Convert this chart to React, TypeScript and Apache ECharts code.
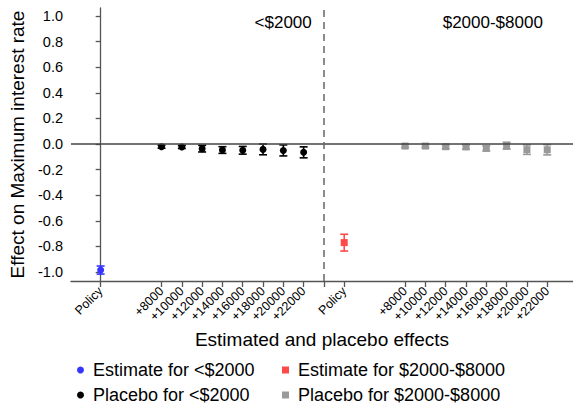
import React, { useEffect, useRef } from "react";
import * as echarts from "echarts";

// ---- data ----
const groups = ["<$2000", "$2000-$8000"];
const placeboLabels = ["+8000", "+10000", "+12000", "+14000", "+16000", "+18000", "+20000", "+22000"];
const policyLabel = "Policy";

const lowEstimate = -0.985;
const lowEstimateLo = -1.016;
const lowEstimateHi = -0.953;

const midEstimate = -0.77;
const midEstimateLo = -0.836;
const midEstimateHi = -0.705;

const lowPlacebo = [-0.021, -0.023, -0.036, -0.047, -0.049, -0.042, -0.05, -0.065];
const lowPlaceboLo = [-0.033, -0.035, -0.062, -0.073, -0.079, -0.084, -0.093, -0.108];
const lowPlaceboHi = [-0.009, -0.011, -0.01, -0.021, -0.019, 0.0, -0.007, -0.022];

const midPlacebo = [-0.016, -0.016, -0.021, -0.023, -0.034, -0.013, -0.044, -0.045];
const midPlaceboLo = [-0.028, -0.028, -0.036, -0.039, -0.054, -0.04, -0.081, -0.085];
const midPlaceboHi = [-0.004, -0.004, -0.006, -0.007, -0.014, 0.014, -0.007, -0.005];

const yTickLabels = [-1.0, -0.8, -0.6, -0.4, -0.2, 0.0, 0.2, 0.4, 0.6, 0.8, 1.0];

const seriesNames = [
  "Estimate for <$2000",
  "Placebo for <$2000",
  "Estimate for $2000-$8000",
  "Placebo for $2000-$8000",
];

// layout of category slots along the x axis
const GROUP_STEP = 12;
const PLACEBO_OFFSET = 3;
const groupBase = (g: number) => g * GROUP_STEP;
const placeboPos = (g: number, i: number) => groupBase(g) + PLACEBO_OFFSET + i;
const dividerPos = GROUP_STEP - 1;

const FONT = "'Liberation Sans', Arial, Helvetica, sans-serif";

export default function App() {
  const ref = useRef<HTMLDivElement>(null);
  useEffect(() => {
    document.body.style.margin = "0";
    if (!ref.current) return;
    const chart = echarts.init(ref.current, undefined, { renderer: "svg" });

    const labelMap: Record<string, string> = {};
    const tickVals: number[] = [];
    const labelVals: number[] = [];
    for (let g = 0; g < groups.length; g++) {
      labelMap[String(groupBase(g))] = policyLabel;
      tickVals.push(groupBase(g));
      labelVals.push(groupBase(g));
      placeboLabels.forEach((l, i) => {
        const p = placeboPos(g, i);
        labelMap[String(p)] = l;
        tickVals.push(p);
        labelVals.push(p);
      });
      if (g === 0) tickVals.push(dividerPos);
    }
    tickVals.sort((a, b) => a - b);

    const lowPlaceboPts = lowPlacebo.map((v, i) => [placeboPos(0, i), v]);
    const midPlaceboPts = midPlacebo.map((v, i) => [placeboPos(1, i), v]);
    const lowPlaceboErr = lowPlacebo.map((_, i) => [placeboPos(0, i), lowPlaceboLo[i], lowPlaceboHi[i]]);
    const midPlaceboErr = midPlacebo.map((_, i) => [placeboPos(1, i), midPlaceboLo[i], midPlaceboHi[i]]);

    const errSeries = (data: number[][], color: string, name: string) => ({
      type: "custom",
      name: name + " ci",
      data,
      z: 2,
      silent: true,
      encode: { x: 0, y: [1, 2] },
      renderItem: (params: any, api: any) => {
        const x = api.value(0);
        const top = api.coord([x, api.value(2)]);
        const bot = api.coord([x, api.value(1)]);
        const hw = 4;
        const style = { stroke: color, lineWidth: 1.6 };
        return {
          type: "group",
          children: [
            { type: "line", shape: { x1: top[0], y1: top[1], x2: bot[0], y2: bot[1] }, style },
            { type: "line", shape: { x1: top[0] - hw, y1: top[1], x2: top[0] + hw, y2: top[1] }, style },
            { type: "line", shape: { x1: bot[0] - hw, y1: bot[1], x2: bot[0] + hw, y2: bot[1] }, style },
          ],
        };
      },
    });

    const legendBase = {
      orient: "vertical",
      top: 361,
      height: 48,
      padding: 0,
      itemWidth: 7,
      itemHeight: 7,
      itemGap: 7,
      textStyle: { fontSize: 18, color: "#000", fontFamily: FONT, padding: [0, 0, 0, 4] },
    };

    const option: any = {
      animation: false,
      textStyle: { fontFamily: FONT },
      grid: { left: 71, right: 0, top: 8, bottom: 128 },
      legend: [
        {
          ...legendBase,
          left: 77,
          data: [
            { name: seriesNames[0], icon: "circle" },
            { name: seriesNames[1], icon: "circle" },
          ],
        },
        {
          ...legendBase,
          left: 282,
          data: [
            { name: seriesNames[2], icon: "rect" },
            { name: seriesNames[3], icon: "rect" },
          ],
        },
      ],
      xAxis: {
        type: "value",
        min: -1.46,
        max: 23.27,
        name: "Estimated and placebo effects",
        nameLocation: "middle",
        nameGap: 33,
        nameTextStyle: { fontSize: 19, color: "#000", fontFamily: FONT },
        splitLine: { show: false },
        axisLine: { onZero: false, lineStyle: { color: "#555", width: 1.3 } },
        axisTick: { show: true, length: 6, customValues: tickVals, lineStyle: { color: "#555", width: 1.3 } },
        axisLabel: {
          customValues: labelVals,
          rotate: 45,
          margin: 8,
          fontSize: 12.5,
          color: "#000",
          fontFamily: FONT,
          formatter: (v: number) => labelMap[String(v)] ?? "",
        },
      },
      yAxis: {
        type: "value",
        min: -1.07,
        max: 1.0625,
        name: "Effect on Maximum interest rate",
        nameLocation: "middle",
        nameGap: 44,
        nameTextStyle: { fontSize: 19, color: "#000", fontFamily: FONT },
        splitLine: { show: false },
        axisLine: { show: true, lineStyle: { color: "#555", width: 1.3 } },
        axisTick: { show: true, length: 5, customValues: yTickLabels, lineStyle: { color: "#555", width: 1.3 } },
        axisLabel: {
          customValues: yTickLabels,
          margin: 8,
          fontSize: 14.5,
          color: "#000",
          fontFamily: FONT,
          formatter: (v: number) => v.toFixed(1),
        },
      },
      series: [
        errSeries([[groupBase(0), lowEstimateLo, lowEstimateHi]], "#3535ff", seriesNames[0]),
        errSeries(lowPlaceboErr, "#000", seriesNames[1]),
        errSeries([[groupBase(1), midEstimateLo, midEstimateHi]], "#ff4a4a", seriesNames[2]),
        errSeries(midPlaceboErr, "#999", seriesNames[3]),
        {
          type: "scatter",
          name: seriesNames[0],
          symbol: "circle",
          symbolSize: 7,
          itemStyle: { color: "#3535ff", opacity: 1 },
          data: [[groupBase(0), lowEstimate]],
          z: 3,
          markLine: {
            silent: true,
            symbol: "none",
            label: { show: false },
            lineStyle: { color: "#444", width: 1.5, type: "solid" },
            data: [{ yAxis: 0 }],
          },
        },
        {
          type: "scatter",
          name: seriesNames[1],
          symbol: "circle",
          symbolSize: 7,
          itemStyle: { color: "#000", opacity: 1 },
          data: lowPlaceboPts,
          z: 3,
          markLine: {
            silent: true,
            symbol: "none",
            label: { show: false },
            lineStyle: { color: "#666", width: 1.5, type: [7, 5] },
            data: [{ xAxis: dividerPos }],
          },
        },
        {
          type: "scatter",
          name: seriesNames[2],
          symbol: "rect",
          symbolSize: 7,
          itemStyle: { color: "#ff4a4a", opacity: 1 },
          data: [[groupBase(1), midEstimate]],
          z: 3,
        },
        {
          type: "scatter",
          name: seriesNames[3],
          symbol: "rect",
          symbolSize: 7,
          itemStyle: { color: "#999", opacity: 1 },
          data: midPlaceboPts,
          z: 3,
        },
      ],
    };
    chart.setOption(option);

    // group annotations placed through the grid's scale
    const a1 = chart.convertToPixel({ gridIndex: 0 }, [dividerPos - 0.6, 0.953]) as number[];
    const a2 = chart.convertToPixel({ gridIndex: 0 }, [dividerPos + 5.85, 0.953]) as number[];
    chart.setOption({
      graphic: [
        {
          type: "text",
          x: a1[0],
          y: a1[1],
          style: { text: groups[0], fontSize: 17, fontFamily: FONT, fill: "#000", align: "right", verticalAlign: "middle" },
        },
        {
          type: "text",
          x: a2[0],
          y: a2[1],
          style: { text: groups[1], fontSize: 17, fontFamily: FONT, fill: "#000", align: "left", verticalAlign: "middle" },
        },
      ],
    });

    return () => chart.dispose();
  }, []);
  return <div ref={ref} style={{ width: 573, height: 409 }} />;
}
